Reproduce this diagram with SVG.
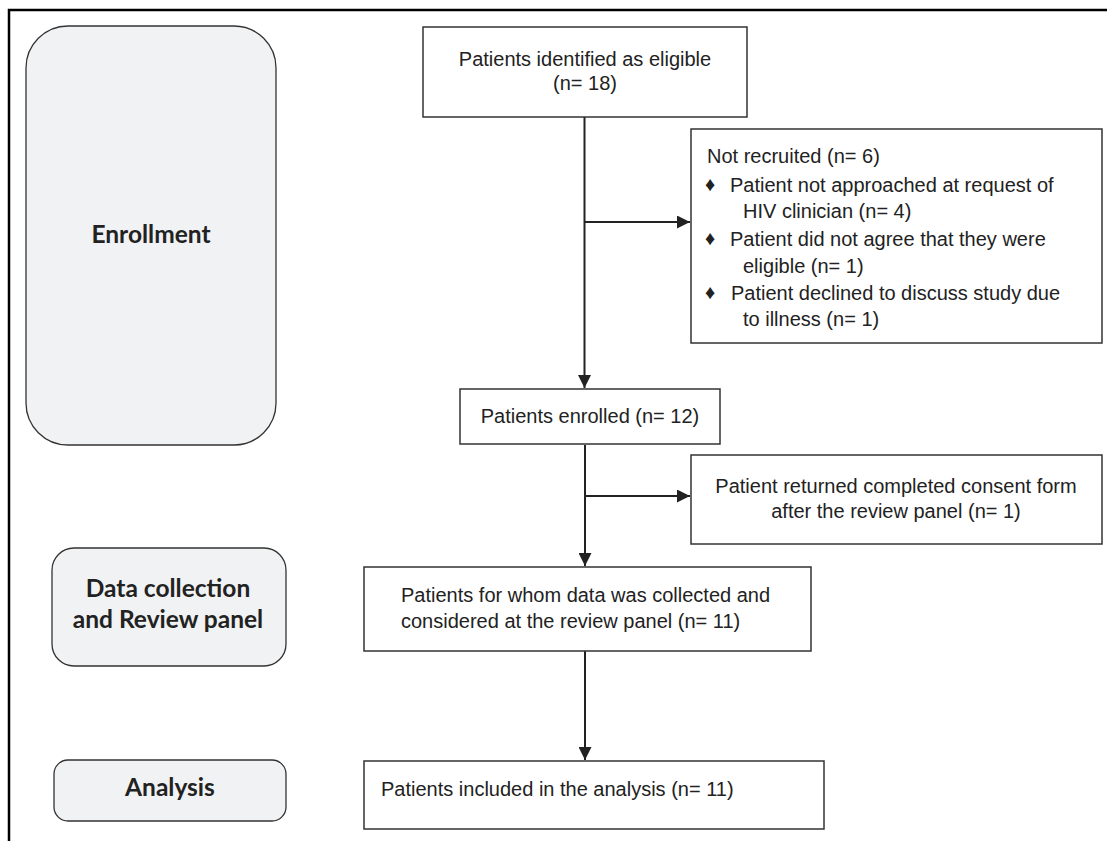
<svg xmlns="http://www.w3.org/2000/svg" width="1107" height="841" viewBox="0 0 1107 841">
<defs>
<style>
.box{fill:#fff;stroke:#333;stroke-width:1.5}
.stage{fill:#f1f2f4;stroke:#333;stroke-width:1.3}
.t{font-family:"Liberation Sans",Arial,sans-serif;font-size:20px;fill:#222}
.c{text-anchor:middle}
.s{font-family:Lato,"Open Sans",sans-serif;font-weight:bold;font-size:24.5px;fill:#222;text-anchor:middle}
.ln{stroke:#222;stroke-width:2;fill:none}
</style>
<marker id="ah" viewBox="0 0 10 10" refX="10" refY="5" markerWidth="6.5" markerHeight="6.5" markerUnits="strokeWidth" orient="auto">
<path d="M0,0 L10,5 L0,10 z" fill="#222"/>
</marker>
</defs>
<rect width="1107" height="841" fill="#fff"/>
<g id="frame">
<path d="M9,841 V10 H1107" fill="none" stroke="#000" stroke-width="2.5"/>
</g>
<g id="stage-enrollment">
<rect class="stage" x="26" y="26" width="250" height="419" rx="42" ry="42"/>
<text class="s" x="151" y="243">Enrollment</text>
</g>
<g id="stage-data">
<rect class="stage" x="52" y="548" width="234" height="118" rx="22" ry="22"/>
<text class="s" x="168" y="597">Data collection</text>
<text class="s" x="168" y="628">and Review panel</text>
</g>
<g id="stage-analysis">
<rect class="stage" x="54" y="760" width="232" height="61" rx="14" ry="14"/>
<text class="s" x="170" y="796">Analysis</text>
</g>
<g id="connectors">
<line class="ln" x1="584.5" y1="117" x2="584.5" y2="388" marker-end="url(#ah)"/>
<line class="ln" x1="584.5" y1="222" x2="690" y2="222" marker-end="url(#ah)"/>
<line class="ln" x1="585" y1="445" x2="585" y2="566" marker-end="url(#ah)"/>
<line class="ln" x1="585" y1="496" x2="690" y2="496" marker-end="url(#ah)"/>
<line class="ln" x1="585" y1="651" x2="585" y2="760" marker-end="url(#ah)"/>
</g>
<g id="n-eligible">
<rect class="box" x="423" y="27" width="324" height="90"/>
<text class="t c" x="585" y="66">Patients identified as eligible</text>
<text class="t c" x="585" y="90">(n= 18)</text>
</g>
<g id="n-notrecruited">
<rect class="box" x="691" y="129" width="411" height="214"/>
<text class="t" x="707" y="163">Not recruited (n= 6)</text>
<text class="t" x="705" y="191" font-size="14">♦</text>
<text class="t" x="730" y="192">Patient not approached at request of</text>
<text class="t" x="743" y="218">HIV clinician (n= 4)</text>
<text class="t" x="705" y="245" font-size="14">♦</text>
<text class="t" x="730" y="246">Patient did not agree that they were</text>
<text class="t" x="743" y="273">eligible (n= 1)</text>
<text class="t" x="705" y="299" font-size="14">♦</text>
<text class="t" x="731" y="300">Patient declined to discuss study due</text>
<text class="t" x="743" y="326">to illness (n= 1)</text>
</g>
<g id="n-enrolled">
<rect class="box" x="460" y="389" width="260" height="55"/>
<text class="t c" x="590" y="423">Patients enrolled (n= 12)</text>
</g>
<g id="n-consent">
<rect class="box" x="691" y="455" width="411" height="89"/>
<text class="t c" x="896" y="493">Patient returned completed consent form</text>
<text class="t c" x="896" y="518">after the review panel (n= 1)</text>
</g>
<g id="n-data">
<rect class="box" x="364" y="567" width="447" height="84"/>
<text class="t" x="401" y="602">Patients for whom data was collected and</text>
<text class="t" x="401" y="628">considered at the review panel (n= 11)</text>
</g>
<g id="n-analysis">
<rect class="box" x="364" y="761" width="460" height="68"/>
<text class="t" x="381" y="796">Patients included in the analysis (n= 11)</text>
</g>
</svg>
